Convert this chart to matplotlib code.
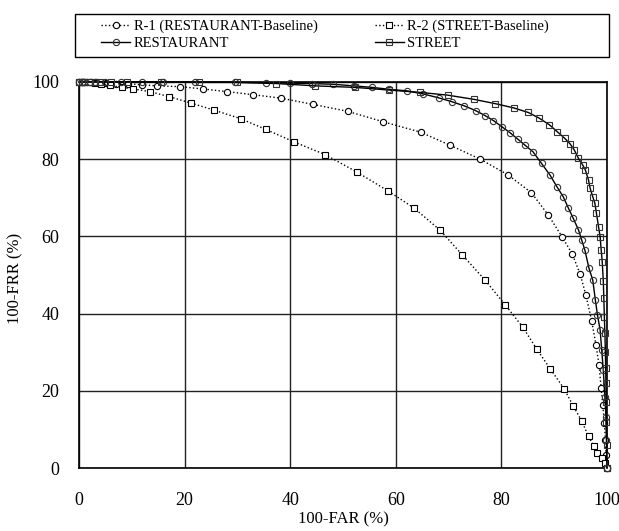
import matplotlib
matplotlib.use("Agg")
import matplotlib.pyplot as plt
from matplotlib.patches import Rectangle

plt.rcParams["font.family"] = ["Liberation Serif", "DejaVu Serif"]

# R-1 (RESTAURANT-Baseline)
r1_x = [0, 0.5, 1, 1.5, 2.2, 3.3, 5.1, 7.1, 9.3, 11.9, 14.7, 19.1, 23.4, 28.1, 33.0, 38.3,
        44.3, 50.9, 57.6, 64.7, 70.3, 76.0, 81.3, 85.7, 88.9, 91.5, 93.4, 94.9, 96.0, 97.1,
        97.9, 98.5, 98.9, 99.2, 99.5, 99.7, 99.8, 100]
r1_y = [100, 100, 100, 100, 99.9, 99.9, 99.8, 99.6, 99.5, 99.3, 99.0, 98.8, 98.2, 97.5, 96.7, 95.8,
        94.2, 92.4, 89.7, 87.0, 83.6, 80.0, 75.9, 71.3, 65.5, 59.9, 55.5, 50.3, 44.8, 38.2,
        31.9, 26.7, 20.6, 16.3, 11.7, 7.3, 3.3, 0]

# R-2 (STREET-Baseline)
r2_x = [0, 0.5, 1, 2, 3, 4.2, 5.9, 8.1, 10.3, 13.4, 17.1, 21.3, 25.6, 30.6, 35.4, 40.7,
        46.6, 52.6, 58.5, 63.4, 68.4, 72.6, 76.9, 80.7, 84.0, 86.7, 89.3, 91.9, 93.6, 95.2,
        96.5, 97.5, 98.2, 99.0, 99.6, 100]
r2_y = [100, 100, 100, 99.9, 99.8, 99.6, 99.1, 98.6, 98.2, 97.5, 96.2, 94.5, 92.7, 90.5, 87.7, 84.5,
        81.2, 76.7, 71.8, 67.4, 61.6, 55.2, 48.7, 42.3, 36.6, 30.8, 25.6, 20.5, 16.1, 12.2,
        8.2, 5.7, 4.0, 2.5, 1.3, 0]

# RESTAURANT
rest_x = [0, 0.5, 1, 2, 3, 5, 8, 12, 16, 22, 29.5, 35.4, 40.0, 44.1, 48.2, 52.0, 55.5, 58.8,
          62.1, 65.2, 68.1, 70.6, 73.0, 75.1, 76.9, 78.5, 80.1, 81.6, 83.1, 84.5, 86.0, 87.6,
          89.2, 90.5, 91.7, 92.7, 93.6, 94.6, 95.2, 95.8, 96.6, 97.3, 97.8, 98.2, 98.7, 99.0,
          99.3, 99.6, 99.8, 99.9, 100]
rest_y = [100, 100, 100, 100, 100, 100, 100, 100, 100, 99.9, 99.9, 99.8, 99.7, 99.6, 99.4, 99.0,
          98.6, 98.1, 97.7, 96.9, 95.9, 94.9, 93.8, 92.6, 91.3, 90.0, 88.4, 86.9, 85.2, 83.6,
          81.9, 78.9, 75.9, 72.9, 70.3, 67.3, 64.7, 61.7, 59.1, 56.5, 51.7, 48.7, 43.5, 39.6,
          35.8, 30.6, 25.4, 18.5, 13.3, 7.3, 0]

# STREET
street_x = [0, 0.5, 1, 2, 3, 4, 6, 9, 15.5, 22.7, 30.0, 37.4, 44.7, 52.3, 58.8, 64.6, 69.8,
            74.8, 78.8, 82.3, 85.1, 87.2, 89.1, 90.6, 92.0, 93.0, 93.8, 94.6, 95.4, 95.9, 96.5,
            96.8, 97.3, 97.7, 98.0, 98.4, 98.7, 98.9, 99.1, 99.3, 99.4, 99.5, 99.6, 99.7, 99.75,
            99.8, 99.85, 99.9, 99.95, 100]
street_y = [100, 100, 100, 100, 100, 100, 100, 100, 100, 100, 99.9, 99.6, 99.0, 98.6, 97.9, 97.3,
            96.6, 95.5, 94.4, 93.3, 92.1, 90.6, 88.9, 87.1, 85.4, 84.0, 82.4, 80.2, 78.5, 77.2,
            74.6, 72.5, 70.3, 68.6, 66.0, 62.5, 59.9, 56.5, 53.4, 48.5, 44.0, 39.2, 35.0, 30.0,
            26.0, 22.0, 17.0, 12.0, 6.0, 0]

fig = plt.figure(figsize=(6.19, 5.31), dpi=100)
ax = fig.add_axes([0.1276, 0.1186, 0.853, 0.727])

ms = 4.5
l1, = ax.plot(r1_x, r1_y, ls=":", lw=1, color="black", marker="o", ms=ms, mfc="white",
              mec="black", mew=0.8, label="R-1 (RESTAURANT-Baseline)", clip_on=False, zorder=3)
l2, = ax.plot(r2_x, r2_y, ls=":", lw=1, color="black", marker="s", ms=ms, mfc="white",
              mec="black", mew=0.8, label="R-2 (STREET-Baseline)", clip_on=False, zorder=3)
l3, = ax.plot(rest_x, rest_y, ls="-", lw=1, color="black", marker="o", ms=ms, mfc="none",
              mec="#333333", mew=0.8, label="RESTAURANT", clip_on=False, zorder=4)
l4, = ax.plot(street_x, street_y, ls="-", lw=1, color="black", marker="s", ms=ms, mfc="none",
              mec="#333333", mew=0.8, label="STREET", clip_on=False, zorder=4)

ax.set_xlim(0, 100)
ax.set_ylim(0, 100)
ax.set_xticks(range(0, 101, 20))
ax.set_yticks(range(0, 101, 20))
ax.tick_params(length=0, labelsize=13)
ax.tick_params(axis="x", pad=17)
ax.tick_params(axis="y", pad=14)
ax.grid(True, color="#222222", lw=1)
ax.set_axisbelow(True)
for s in ax.spines.values():
    s.set_linewidth(1.2)
    s.set_color("black")

ax.set_xlabel("100-FAR (%)", fontsize=12)
ax.xaxis.set_label_coords(0.5, -0.112)
ax.set_ylabel("100-FRR (%)", fontsize=12)
ax.yaxis.set_label_coords(-0.105, 0.49)

# legend in row order: R-1, R-2 / RESTAURANT, STREET
handles = [l1, l3, l2, l4]
fig.legend(handles, [h.get_label() for h in handles],
           loc="upper left", bbox_to_anchor=(101 / 619, 1 - 20 / 531),
           bbox_transform=fig.transFigure, ncol=2, fontsize=10.5, frameon=False,
           handlelength=2.0, handletextpad=0.25, columnspacing=3.9, borderpad=0,
           borderaxespad=0, labelspacing=0.2, numpoints=1)
fig.add_artist(Rectangle((75 / 619, 1 - 57 / 531), 534 / 619, 43 / 531,
                         transform=fig.transFigure, fill=False, ec="black", lw=1))

fig.savefig("out.png", dpi=100)
